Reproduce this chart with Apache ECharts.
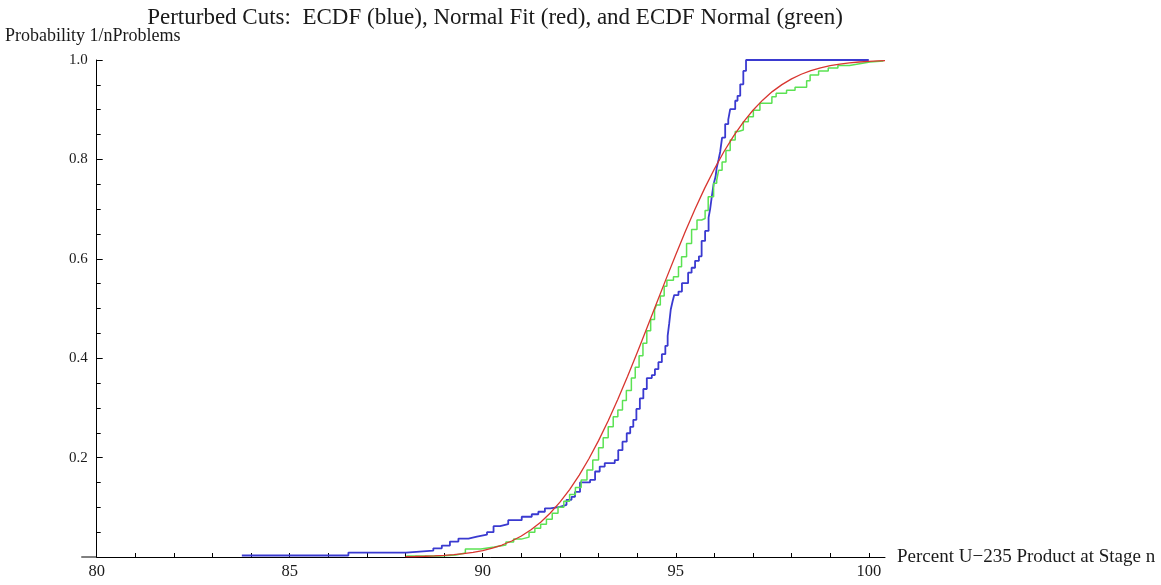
<!DOCTYPE html>
<html><head><meta charset="utf-8">
<script src="https://cdn.jsdelivr.net/npm/echarts@6/dist/echarts.min.js"></script>
<style>html,body{margin:0;padding:0;background:#fff}#c{width:1161px;height:585px}</style>
</head><body><div id="c"></div>
<script>
const titleText = 'Perturbed Cuts:  ECDF (blue), Normal Fit (red), and ECDF Normal (green)';
const xName = 'Percent U\u2212235 Product at Stage n';
const yName = 'Probability 1/nProblems';
const xLabelTicks = [80, 85, 90, 95, 100];
const xAllTicks = [80,81,82,83,84,85,86,87,88,89,90,91,92,93,94,95,96,97,98,99,100];
const yLabelTicks = [0.2, 0.4, 0.6, 0.8, 1.0];

// Blue: empirical CDF (step)
const blueX = [83.76,86.52,88.01,88.72,88.94,89.15,89.37,89.63,89.85,90.11,90.28,90.45,90.66,91.01,91.27,91.44,91.61,91.75,92.00,92.17,92.30,92.39,92.52,92.78,92.91,93.03,93.16,93.42,93.51,93.62,93.73,93.82,93.90,93.98,94.07,94.16,94.25,94.38,94.46,94.55,94.64,94.73,94.79,94.83,94.87,94.92,94.96,95.07,95.16,95.32,95.41,95.50,95.60,95.67,95.76,95.85,95.89,95.93,95.98,96.03,96.06,96.11,96.15,96.20,96.28,96.36,96.41,96.54,96.60,96.67,96.75,96.82,100.00];
const blueY = [0.003,0.009,0.013,0.0175,0.023,0.031,0.037,0.041,0.045,0.050,0.062,0.066,0.074,0.081,0.086,0.091,0.098,0.101,0.105,0.115,0.121,0.131,0.150,0.155,0.172,0.182,0.189,0.195,0.215,0.232,0.249,0.262,0.276,0.298,0.319,0.338,0.360,0.366,0.378,0.392,0.408,0.425,0.445,0.470,0.498,0.515,0.527,0.534,0.551,0.572,0.582,0.596,0.605,0.636,0.656,0.683,0.700,0.723,0.750,0.765,0.783,0.800,0.815,0.844,0.871,0.880,0.901,0.918,0.928,0.951,0.978,1.000,1.000];

// Green: ECDF of normal sample (step)
const greenX = [88.02,88.90,89.30,89.55,89.95,90.30,90.60,90.80,91.00,91.20,91.35,91.50,91.65,91.80,91.95,92.10,92.25,92.40,92.55,92.70,92.85,93.00,93.12,93.25,93.38,93.50,93.62,93.72,93.85,93.95,94.05,94.15,94.25,94.35,94.45,94.50,94.60,94.70,94.77,94.94,95.07,95.15,95.28,95.41,95.55,95.67,95.76,95.84,95.98,96.06,96.11,96.20,96.30,96.41,96.54,96.62,96.75,96.88,97.01,97.18,97.49,97.60,97.87,98.09,98.39,98.48,98.70,98.95,99.20,99.50,99.80,100.03,100.38];
const greenY = [0.002,0.004,0.008,0.016,0.020,0.024,0.030,0.036,0.040,0.050,0.058,0.066,0.076,0.088,0.100,0.112,0.126,0.140,0.155,0.175,0.195,0.220,0.240,0.262,0.282,0.296,0.315,0.335,0.360,0.382,0.405,0.430,0.455,0.478,0.497,0.507,0.525,0.545,0.557,0.564,0.584,0.604,0.631,0.659,0.678,0.681,0.697,0.725,0.752,0.758,0.778,0.795,0.818,0.839,0.856,0.859,0.876,0.886,0.899,0.913,0.926,0.933,0.939,0.945,0.958,0.970,0.978,0.984,0.989,0.993,0.996,0.998,0.998];

// Red: normal fit curve
const redX = [88.00,88.25,88.50,88.75,89.00,89.25,89.50,89.75,90.00,90.25,90.50,90.75,91.00,91.25,91.50,91.75,92.00,92.25,92.50,92.75,93.00,93.25,93.50,93.75,94.00,94.25,94.50,94.75,95.00,95.25,95.50,95.75,96.00,96.25,96.50,96.75,97.00,97.25,97.50,97.75,98.00,98.25,98.50,98.75,99.00,99.25,99.50,99.75,100.00,100.25,100.42];
const redY = [0.0006,0.0010,0.0015,0.0022,0.0032,0.0047,0.0067,0.0094,0.0130,0.0179,0.0241,0.0322,0.0423,0.0548,0.0701,0.0885,0.1103,0.1357,0.1648,0.1977,0.2342,0.2743,0.3174,0.3632,0.4110,0.4602,0.5100,0.5596,0.6083,0.6554,0.7002,0.7422,0.7808,0.8159,0.8473,0.8749,0.8989,0.9192,0.9364,0.9505,0.9621,0.9713,0.9786,0.9842,0.9886,0.9918,0.9942,0.9960,0.9972,0.9981,0.9986];

const zip = (xs, ys) => xs.map((x, i) => [x, ys[i]]);
const FONT = 'Liberation Serif';
const TXT = '#1a1a1a';

const chart = echarts.init(document.getElementById('c'), null, {renderer: 'canvas'});
chart.setOption({
  animation: false,
  backgroundColor: '#ffffff',
  title: {
    text: titleText, left: 490, textAlign: 'center', top: 1,
    textStyle: {fontFamily: FONT, fontSize: 23, fontWeight: 'normal', color: TXT}
  },
  grid: {left: 96.7, right: 276, top: 60, bottom: 28, containLabel: false, outerBoundsMode: 'none'},
  xAxis: {
    type: 'value', min: 80, max: 100.42,
    name: xName, nameLocation: 'end', nameGap: 12,
    nameTextStyle: {fontFamily: FONT, fontSize: 19, color: TXT, align: 'left', verticalAlign: 'middle'},
    axisLine: {show: true, onZero: false, lineStyle: {color: '#000', width: 1}},
    axisTick: {show: true, inside: true, length: 4, customValues: xAllTicks, lineStyle: {color: '#000'}},
    minorTick: {show: false},
    splitLine: {show: false},
    axisLabel: {
      customValues: xLabelTicks, margin: 6,
      fontFamily: FONT, fontSize: 16.5, color: TXT,
      formatter: v => String(Math.round(v))
    }
  },
  yAxis: {
    type: 'value', min: 0, max: 1, interval: 0.2,
    name: yName, nameLocation: 'end', nameGap: 15,
    nameTextStyle: {fontFamily: FONT, fontSize: 18, color: TXT, align: 'center', verticalAlign: 'bottom', padding: [0, 8, 0, 0]},
    axisLine: {show: true, onZero: false, lineStyle: {color: '#000', width: 1}},
    axisTick: {show: true, inside: true, length: 6, lineStyle: {color: '#000'}},
    minorTick: {show: true, splitNumber: 4, length: 4, lineStyle: {color: '#000'}},
    splitLine: {show: false},
    axisLabel: {
      margin: 9, fontFamily: FONT, fontSize: 15, color: TXT,
      formatter: v => yLabelTicks.some(t => Math.abs(t - v) < 1e-9) ? v.toFixed(1) : ''
    }
  },
  series: [
    {name: 'ECDF', type: 'line', step: 'end', showSymbol: false, symbol: 'none', clip: false,
     data: zip(blueX, blueY), lineStyle: {color: '#3a3ad0', width: 1.8}, z: 3},
    {name: 'ECDF Normal', type: 'line', step: 'end', showSymbol: false, symbol: 'none', clip: false,
     data: zip(greenX, greenY), lineStyle: {color: '#5be253', width: 1.5}, z: 4},
    {name: 'Normal Fit', type: 'line', smooth: false, showSymbol: false, symbol: 'none', clip: false,
     data: zip(redX, redY), lineStyle: {color: '#d8352f', width: 1.3}, z: 5}
  ]
});

// extend the x axis line a little to the left of the y axis, as in the source plot
const a = chart.convertToPixel({gridIndex: 0}, [79.6, 0]);
const b = chart.convertToPixel({gridIndex: 0}, [80, 0]);
chart.setOption({
  graphic: [{type: 'line', shape: {x1: a[0], y1: a[1], x2: b[0], y2: b[1]},
             style: {stroke: '#000', lineWidth: 1}, z: 10}]
});
</script>
</body></html>
